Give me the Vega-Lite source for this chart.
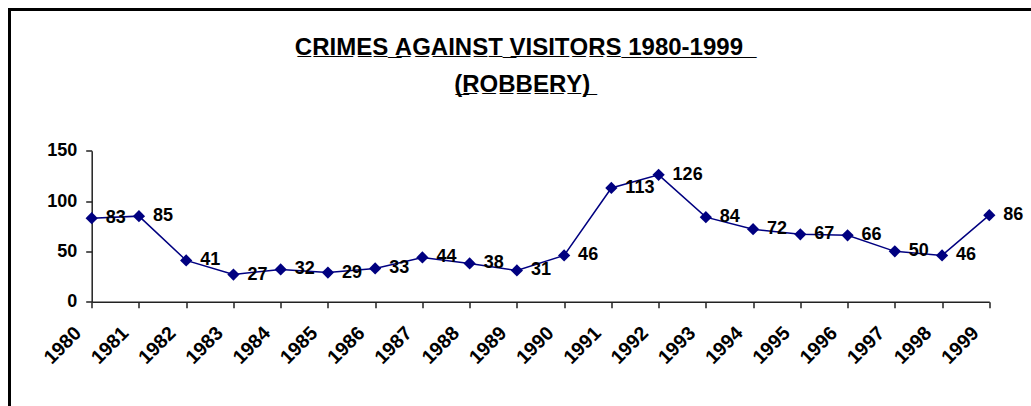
{
  "$schema": "https://vega.github.io/schema/vega-lite/v6.json",
  "autosize": {"type": "none"},
  "padding": {"left": 9.5, "top": 9.5, "right": -4, "bottom": -4},
  "width": 1025.5,
  "height": 400.5,
  "background": "white",
  "config": {
    "view": {"stroke": "black", "strokeWidth": 3},
    "font": "Liberation Sans",
    "axis": {"grid": false}
  },
  "title": {
    "text": ["C\u0332R\u0332I\u0332M\u0332E\u0332S\u0332 \u0332A\u0332G\u0332A\u0332I\u0332N\u0332S\u0332T\u0332 \u0332V\u0332I\u0332S\u0332I\u0332T\u0332O\u0332R\u0332S\u0332 \u03321\u03329\u03328\u03320\u0332-\u03321\u03329\u03329\u03329\u0332 \u0332", "(\u0332R\u0332O\u0332B\u0332B\u0332E\u0332R\u0332Y\u0332)\u0332"],
    "font": "Liberation Sans",
    "fontSize": 24,
    "fontWeight": "bold",
    "color": "black",
    "lineHeight": 37,
    "anchor": "middle",
    "baseline": "top",
    "offset": -87,
    "dy": 0
  },
  "data": {"values": [
    {"year": "1980", "value": 83},
    {"year": "1981", "value": 85},
    {"year": "1982", "value": 41},
    {"year": "1983", "value": 27},
    {"year": "1984", "value": 32},
    {"year": "1985", "value": 29},
    {"year": "1986", "value": 33},
    {"year": "1987", "value": 44},
    {"year": "1988", "value": 38},
    {"year": "1989", "value": 31},
    {"year": "1990", "value": 46},
    {"year": "1991", "value": 113},
    {"year": "1992", "value": 126},
    {"year": "1993", "value": 84},
    {"year": "1994", "value": 72},
    {"year": "1995", "value": 67},
    {"year": "1996", "value": 66},
    {"year": "1997", "value": 50},
    {"year": "1998", "value": 46},
    {"year": "1999", "value": 86}
  ]},
  "encoding": {
    "x": {
      "field": "year", "type": "ordinal", "sort": null,
      "scale": {"type": "point", "range": [82.2, 979.8], "padding": 0},
      "axis": {
        "title": null, "offset": -108.3, "labelAngle": -45,
        "labelAlign": "right", "labelBaseline": "middle", "labelOffset": -14, "labelPadding": 22,
        "labelFont": "Liberation Sans", "labelFontSize": 19.5, "labelFontWeight": "bold", "labelColor": "black",
        "domainColor": "#222", "domainWidth": 1.5, "tickColor": "#222", "tickWidth": 1.5, "tickSize": 6
      }
    },
    "y": {
      "field": "value", "type": "quantitative",
      "scale": {"domain": [0, 150], "range": [292.2, 141.2], "nice": false, "zero": true},
      "axis": {
        "title": null, "offset": -82.2, "values": [0, 50, 100, 150],
        "labelFont": "Liberation Sans", "labelFontSize": 18, "labelFontWeight": "bold", "labelColor": "black",
        "domainColor": "#222", "domainWidth": 1.5, "tickColor": "#222", "tickWidth": 1.5, "tickSize": 6, "labelPadding": 9
      }
    }
  },
  "layer": [
    {"mark": {"type": "line", "color": "#000080", "strokeWidth": 1.5}},
    {"mark": {"type": "point", "shape": "diamond", "filled": true, "color": "#000080", "size": 150, "opacity": 1}},
    {"mark": {"type": "text", "align": "left", "baseline": "middle", "dx": 14, "font": "Liberation Sans", "fontSize": 18, "fontWeight": "bold", "color": "black"},
     "encoding": {"text": {"field": "value", "type": "quantitative"}}}
  ]
}
